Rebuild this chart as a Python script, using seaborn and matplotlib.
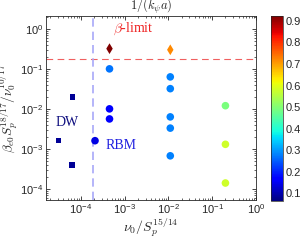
import numpy as np
import pandas as pd
import seaborn as sns
import matplotlib.pyplot as plt
import matplotlib as mpl

# data
x_vals = [4.5e-4, 1.1e-2,
          4.5e-4, 4.5e-4, 4.5e-4, 2.1e-4,
          1.1e-2, 1.1e-2, 1.1e-2, 1.1e-2, 1.1e-2,
          0.2, 0.2, 0.2,
          6.5e-5, 3.1e-5, 6.2e-5]
y_vals = [0.32, 0.30,
          0.10, 1.0e-2, 5.6e-3, 1.6e-3,
          0.063, 0.032, 6.3e-3, 3.3e-3, 6.7e-4,
          1.2e-2, 1.3e-3, 1.4e-4,
          2.0e-2, 1.6e-3, 4.0e-4]
c_vals = [0.92, 0.72,
          0.27, 0.17, 0.17, 0.14,
          0.28, 0.28, 0.28, 0.28, 0.28,
          0.49, 0.58, 0.58,
          0.08, 0.08, 0.08]
regime = ['beta', 'beta',
          'RBM', 'RBM', 'RBM', 'RBM',
          'RBM', 'RBM', 'RBM', 'RBM', 'RBM',
          'RBM', 'RBM', 'RBM',
          'DW', 'DW', 'DW']
beta_limit = 0.18
rbm_edge = 1.9e-4
vmin, vmax = 0.063, 0.923

df = pd.DataFrame({'x': x_vals, 'y': y_vals, 'c': c_vals, 'regime': regime})

sns.set_style('ticks')
plt.rcParams['font.family'] = ['Liberation Sans', 'DejaVu Sans']
plt.rcParams['mathtext.fontset'] = 'cm'

fig = plt.figure(figsize=(3.03, 2.42), dpi=100)
ax = fig.add_axes([0.152, 0.174, 0.693, 0.76])
cax = fig.add_axes([0.894, 0.169, 0.041, 0.765])

jet = mpl.colormaps['jet']
norm = mpl.colors.Normalize(vmin=vmin, vmax=vmax)
ax.axhline(beta_limit, color='#f06060', ls=(0, (6, 4)), lw=0.8, zorder=1)
ax.axvline(rbm_edge, color='#a8a8f8', ls=(0, (5, 3)), lw=1.2, zorder=1)

sns.scatterplot(data=df, x='x', y='y', hue='c', style='regime',
                markers={'beta': 'd', 'RBM': 'o', 'DW': 's'},
                size='regime', sizes={'beta': 30, 'RBM': 30, 'DW': 16},
                palette=jet, hue_norm=norm, linewidth=0, legend=False,
                ax=ax, zorder=3)

ax.set_xscale('log')
ax.set_yscale('log')
ax.set_xlim(1.6e-5, 1)
ax.set_ylim(5.3e-5, 2.1)
ax.set_xticks([1e-4, 1e-3, 1e-2, 1e-1, 1])
ax.set_yticks([1e-4, 1e-3, 1e-2, 1e-1, 1])
ax.tick_params(which='both', direction='in', top=True, right=True, labelsize=8)
ax.tick_params(which='major', length=3, width=0.6, pad=2)
ax.tick_params(which='minor', length=1.5, width=0.5)
for s in ax.spines.values():
    s.set_linewidth(0.6)

ax.set_xlabel(r'$\nu_0/S_p^{15/14}$', fontsize=10, labelpad=0)
ax.set_ylabel(r'$\beta_{e0}S_p^{18/17}/\nu_0^{10/17}$', fontsize=9.5, labelpad=0)
ax.set_title(r'$1/(k_\psi a)$', fontsize=9, pad=1.5)

ax.text(5.5e-4, 0.85, r'$\beta$-limit', color='#ee2222', fontsize=10,
        family='Liberation Serif', va='baseline')
ax.text(4.9e-5, 4.5e-3, 'DW', color='#101080', fontsize=10,
        family='Liberation Serif', ha='center', va='center')
ax.text(3.7e-4, 1.2e-3, 'RBM', color='#2020e0', fontsize=10,
        family='Liberation Serif', va='center')

cb = fig.colorbar(mpl.cm.ScalarMappable(norm=norm, cmap=jet), cax=cax)
cb.set_ticks([0.1, 0.2, 0.3, 0.4, 0.5, 0.6, 0.7, 0.8, 0.9])
cb.ax.tick_params(labelsize=8, length=0, pad=2)
cb.outline.set_linewidth(0.5)

fig.savefig('out.png', dpi=100)
